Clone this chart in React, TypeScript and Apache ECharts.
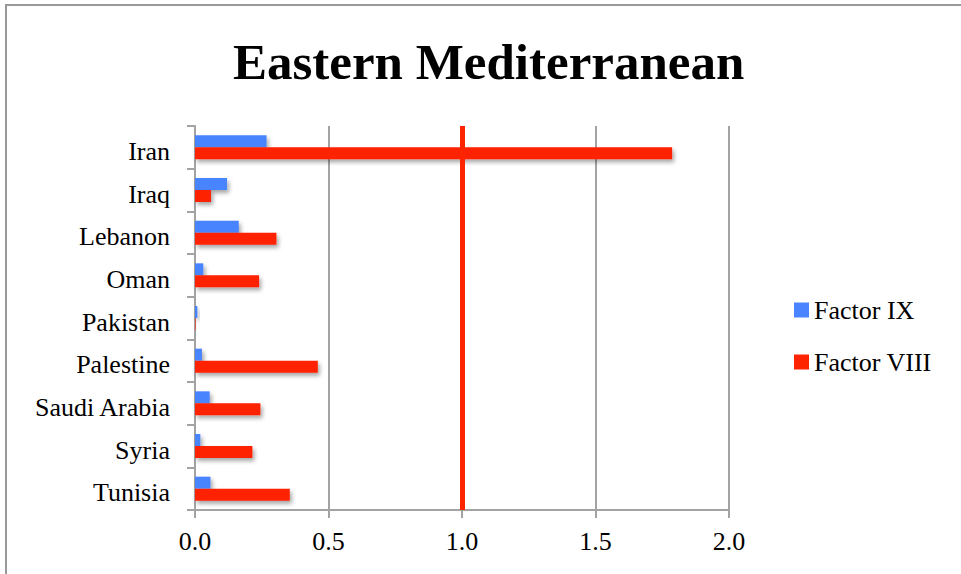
import React, { useEffect, useRef } from "react";
import * as echarts from "echarts";

const countries = [
  "Iran",
  "Iraq",
  "Lebanon",
  "Oman",
  "Pakistan",
  "Palestine",
  "Saudi Arabia",
  "Syria",
  "Tunisia",
];
const factorIX = [0.268, 0.12, 0.164, 0.031, 0.009, 0.026, 0.055, 0.02, 0.058];
const factorVIII = [1.787, 0.06, 0.305, 0.24, 0.002, 0.46, 0.245, 0.215, 0.355];
const referenceLevel = 1.0;

const SERIF = "'Liberation Serif', 'DejaVu Serif', serif";
const BLUE = "#4a84ff";
const RED = "#ff2400";
const GRAY = "#a3a3a3";

export default function App() {
  const ref = useRef<HTMLDivElement>(null);

  useEffect(() => {
    document.body.style.margin = "0";
    const chart = echarts.init(ref.current!, undefined, { renderer: "svg" });
    const barShadow = {
      shadowColor: "rgba(0,0,0,0.35)",
      shadowBlur: 4,
      shadowOffsetX: 2,
      shadowOffsetY: 3,
    };
    chart.setOption({
      animation: false,
      backgroundColor: "#ffffff",
      title: {
        text: "Eastern Mediterranean",
        left: 228,
        top: 31,
        textStyle: {
          fontFamily: SERIF,
          fontWeight: "bold",
          fontSize: 51,
          color: "#000",
        },
      },
      graphic: [
        {
          type: "rect",
          shape: { x: 6, y: 5, width: 1200, height: 1000 },
          style: { fill: "none", stroke: "#999", lineWidth: 2 },
          silent: true,
        },
      ],
      legend: {
        orient: "vertical",
        left: 789,
        top: 292,
        itemWidth: 15,
        itemHeight: 15,
        itemGap: 26,
        icon: "rect",
        textStyle: {
          fontFamily: SERIF,
          fontSize: 26,
          lineHeight: 26,
          color: "#000",
        },
        data: ["Factor IX", "Factor VIII"],
      },
      grid: { left: 195, right: 232, top: 126, bottom: 64 },
      xAxis: {
        type: "value",
        min: 0,
        max: 2,
        interval: 0.5,
        axisLine: { show: true, lineStyle: { color: GRAY, width: 2 } },
        axisTick: { show: true, length: 8, lineStyle: { color: GRAY, width: 2 } },
        splitLine: { show: true, lineStyle: { color: GRAY, width: 2 } },
        axisLabel: {
          margin: 18,
          fontFamily: SERIF,
          fontSize: 26,
          color: "#000",
          formatter: (v: number) => v.toFixed(1),
        },
      },
      yAxis: {
        type: "category",
        inverse: true,
        data: countries,
        axisLine: { show: true, lineStyle: { color: GRAY, width: 2 } },
        axisTick: { show: true, length: 8, lineStyle: { color: GRAY, width: 2 } },
        axisLabel: {
          margin: 25,
          fontFamily: SERIF,
          fontSize: 26,
          color: "#000",
          formatter: (v: string) => `{c|${v}}`,
          rich: {
            c: {
              fontFamily: SERIF,
              fontSize: 26,
              color: "#000",
              padding: [8, 0, 0, 0],
            },
          },
        },
      },
      series: [
        {
          name: "Factor IX",
          type: "bar",
          data: factorIX,
          barWidth: 12,
          barGap: "0%",
          itemStyle: { color: BLUE, ...barShadow },
        },
        {
          name: "Factor VIII",
          type: "bar",
          data: factorVIII,
          barWidth: 12,
          barGap: "0%",
          itemStyle: { color: RED, ...barShadow },
          markLine: {
            silent: true,
            symbol: "none",
            label: { show: false },
            lineStyle: { color: RED, width: 5, type: "solid" },
            data: [{ xAxis: referenceLevel }],
          },
        },
      ],
    });
    return () => chart.dispose();
  }, []);

  return <div ref={ref} style={{ width: 961, height: 574 }} />;
}
